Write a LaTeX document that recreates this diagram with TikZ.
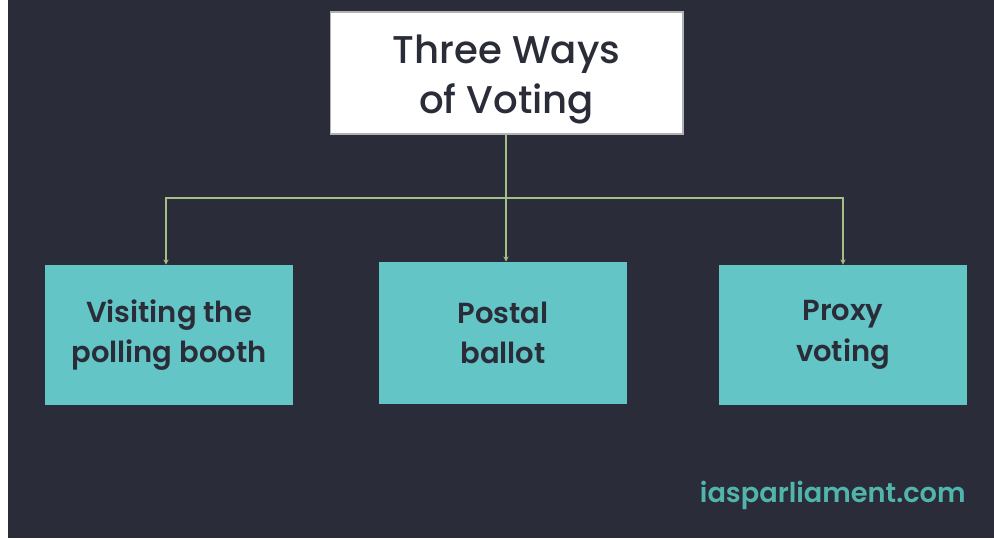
\documentclass[tikz,border=0pt]{standalone}
\usepackage{fontspec}
\setmainfont{Poppins}
\newfontfamily\popmed{Poppins Medium}
\newfontfamily\popsemi{Poppins SemiBold}
\usetikzlibrary{arrows.meta}
\definecolor{bgdark}{HTML}{2A2C3A}
\definecolor{tealbox}{HTML}{63C5C6}
\definecolor{txtdark}{HTML}{2A2C38}
\definecolor{connc}{HTML}{A3BF86}
\definecolor{wmark}{HTML}{52B5AC}
\tikzset{
  titlebox/.style={draw=gray!60, line width=0.6pt, fill=white, minimum width=7.06cm, minimum height=2.44cm, inner sep=0pt},
  titletxt/.style={text=txtdark, align=center, font=\popmed\fontsize{22}{28.5}\selectfont, inner sep=0pt},
  waybox/.style={fill=tealbox, text=txtdark, minimum width=4.96cm, minimum height=2.8cm, align=center, font=\popsemi\fontsize{16.5}{23}\selectfont, inner sep=0pt},
  conn/.style={draw=connc, line width=0.9pt, -{Stealth[length=3pt,width=3pt]}},
}
\begin{document}
\begin{tikzpicture}[x=0.02cm,y=-0.02cm]
\useasboundingbox (0,0) rectangle (994,538);
\fill[white] (0,0) rectangle (994,538);
\fill[bgdark] (8,0) rectangle (994,538);
\node[titlebox] (title) at (506.5,73) {};
\node[titletxt] (titletext) at ([yshift=-0.12cm]title.center) {Three Ways\\of Voting};
\node[waybox] (left) at (169,335) {Visiting the\\polling booth};
\node[waybox, minimum height=2.84cm] (mid) at (503,333) {Postal\\ballot};
\node[waybox] (right) at (843,335) {Proxy\\voting};
\coordinate (junc) at (506,198);
\draw[conn] (title.south -| junc) -- (mid.north -| junc);
\draw[conn] (junc) -| ([xshift=-0.06cm]left.north);
\draw[conn] (junc) -| (right.north);
\node[text=wmark, font=\popsemi\fontsize{15.5}{19}\selectfont, anchor=east, inner sep=0pt] (wm) at (966,495) {iasparliament.com};
\end{tikzpicture}
\end{document}
